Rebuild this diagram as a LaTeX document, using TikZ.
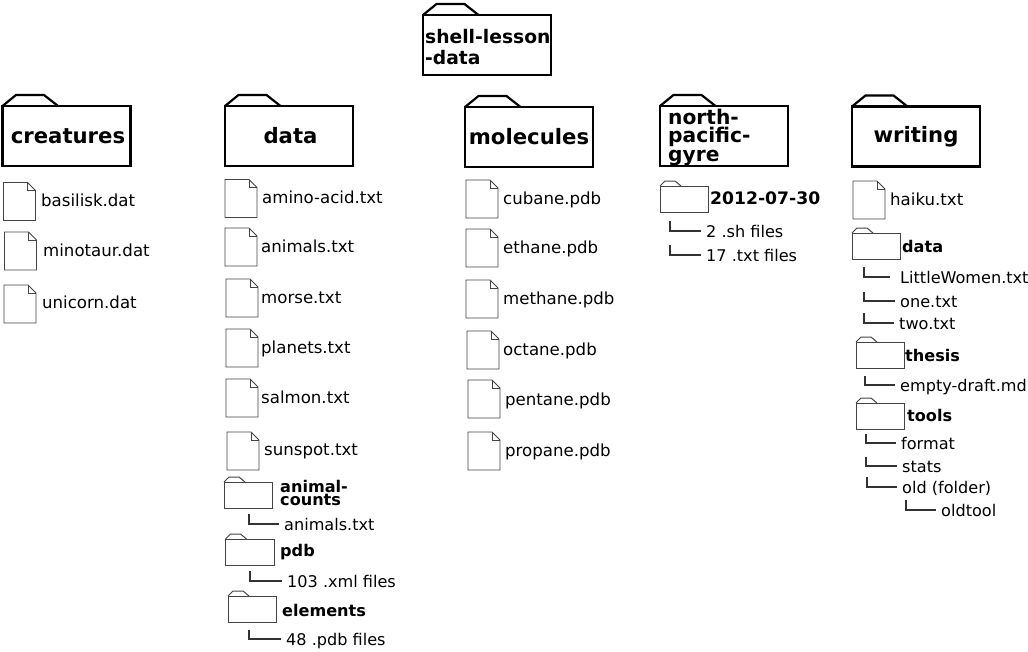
\documentclass[tikz,border=0pt]{standalone}
\usepackage{fontspec}
\setmainfont{DejaVu Sans}
\definecolor{FileGray}{HTML}{444444}
\definecolor{ConnGray}{HTML}{333333}

\begin{document}
\begin{tikzpicture}[
    x=1pt, y=-1pt,
    bigfolder/.style={rectangle, draw=black, line width=2.8pt, anchor=north west, outer sep=0pt, inner sep=0pt,
                      minimum width=128pt, minimum height=60pt, font=\fontsize{21.2}{18}\selectfont\bfseries},
    bigtab/.style={draw=black, line width=2.2pt},
    smallfolder/.style={rectangle, draw=FileGray, line width=1pt, anchor=north west, outer sep=0pt,
                        minimum width=48.5pt, minimum height=26pt},
    smalltab/.style={draw=FileGray, line width=1pt},
    filebox/.style={rectangle, anchor=north west, outer sep=0pt, minimum width=32pt, minimum height=38pt},
    fileline/.style={draw=FileGray, line width=0.9pt},
    filename/.style={anchor=west, inner sep=0pt, font=\fontsize{16.6}{18}\selectfont, text height=15.3pt, text depth=3.3pt},
    foldername/.style={anchor=west, inner sep=0pt, align=left, font=\fontsize{16.1}{11.5}\selectfont\bfseries},
    leaf/.style={anchor=west, inner sep=0pt, inner xsep=5pt, font=\fontsize{16.1}{18}\selectfont, text height=15.3pt, text depth=3.3pt},
    conn/.style={draw=ConnGray, line width=1.3pt}
]
  \useasboundingbox (0,0) rectangle (1028,651);

  % Big folders
  \node[bigfolder] (shell) at (423,15) {};
  \node[foldername, font=\fontsize{18.7}{21}\selectfont\bfseries] (tshell) at (425,47) {shell-lesson\\-data};
  \node[bigfolder] (creatures) at (2.5,106) {\hspace*{3pt}creatures};
  \node[bigfolder] (data) at (225,106) {\hspace*{3pt}data};
  \node[bigfolder] (molecules) at (465,107) {molecules};
  \node[bigfolder] (north) at (660,106) {};
  \node[foldername, font=\fontsize{20.2}{18.5}\selectfont\bfseries] (tnorth) at (668,137.5) {north-\\pacific-\\gyre};
  \node[bigfolder] (writing) at (852,106.5) {writing};
  \foreach \n in {shell,creatures,data,molecules,north,writing}{
    \draw[bigtab] (\n.north west) -- ++(13.5,-11) -- ++(28,0) -- ++(14,11);
  }

  % Files
  \foreach \n/\x/\y/\lx/\ly/\lab in {
      basilisk/3.5/182.5/41/200/basilisk.dat, minotaur/4.5/232/43/250/minotaur.dat, unicorn/4/285/42/302/unicorn.dat,
      amino/225/179.5/262/197/amino-acid.txt, animals/225/228/261/246/animals.txt, morse/226/279/261/297/morse.txt,
      planets/226/329/261/347/planets.txt, salmon/226/379/261/397/salmon.txt, sunspot/227/432/264/449/sunspot.txt,
      cubane/466/180/503/198/cubane.pdb, ethane/466/229/503/247/ethane.pdb, methane/466/280/503/298/methane.pdb,
      octane/467/331/503/349/octane.pdb, pentane/468/380/505/399/pentane.pdb, propane/468/432/505/450/propane.pdb,
      haiku/853/181/890/199/haiku.txt}{
    \node[filebox] (f\n) at (\x,\y) {};
    \node[filename] (t\n) at (\lx,\ly) {\lab};
    \draw[fileline] (f\n.north west) -- ++(24,0) -- ++(8,8) -- (f\n.south east) -- (f\n.south west) -- cycle;
    \draw[fileline] (f\n.north west) ++(24,0) -- ++(0,8) -- ++(8,0);
  }

  % Small folders
  \foreach \n/\x/\y/\lx/\ly/\lab in {
      counts/224/482/280/493/{animal-\\counts}, pdb/225.5/539/280/552/pdb, elements/228/596/282/610/elements,
      wdata/852/233/902/246/data, thesis/856/342/905/355/thesis, tools/856/403/907/415/tools}{
    \node[smallfolder] (d\n) at (\x,\y) {};
    \node[foldername] (n\n) at (\lx,\ly) {\lab};
    \draw[smalltab] (d\n.north west) -- ++(5,-5) -- ++(10,0) -- ++(6,5);
  }
  \node[smallfolder] (ddate) at (660,186) {};
  \node[foldername, font=\fontsize{17.2}{18}\selectfont\bfseries] (ndate) at (710,198) {2012-07-30};
  \draw[smalltab] (ddate.north west) -- ++(5,-5) -- ++(10,0) -- ++(6,5);

  % Connections
  \foreach \n/\x/\ya/\ex/\y/\lab in {
      a/249/514/279/524/animals.txt, b/250/571/282/581/103 .xml files, c/249/630/281/639/48 .pdb files,
      d/670/221/701/231/2 .sh files, e/670/245/701/255/17 .txt files,
      f/864/267/890/277/\hspace*{5pt}LittleWomen.txt, g/864/292/895/301/one.txt, h/864/313/894/323/two.txt,
      i/865/376/895/385/empty-draft.md, j/866/434/896/443/format, k/866/457/897/466/stats,
      l/867/477/897/487/old (folder), m/906/500/936/510/oldtool}{
    \coordinate (s\n) at (\x,\ya);
    \node[leaf] (l\n) at (\ex,\y) {\lab};
    \draw[conn] (s\n) |- (l\n.west);
  }
\end{tikzpicture}
\end{document}
